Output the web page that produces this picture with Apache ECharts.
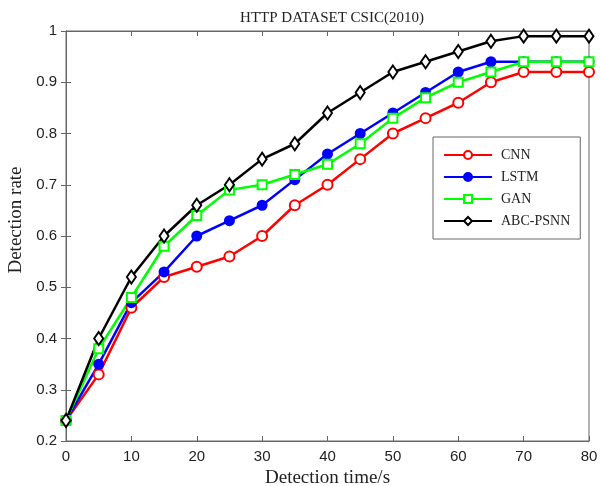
<!DOCTYPE html>
<html><head><meta charset="utf-8">
<script src="https://cdn.jsdelivr.net/npm/echarts@6/dist/echarts.min.js"></script>
<style>html,body{margin:0;padding:0;background:#fff}#c{width:600px;height:486px}</style>
</head><body><div id="c"></div>
<script>
const times = [0,5,10,15,20,25,30,35,40,45,50,55,60,65,70,75,80];
const cnn   = [0.24,0.33,0.46,0.52,0.54,0.56,0.60,0.66,0.70,0.75,0.80,0.83,0.86,0.90,0.92,0.92,0.92];
const lstm  = [0.24,0.35,0.47,0.53,0.60,0.63,0.66,0.71,0.76,0.80,0.84,0.88,0.92,0.94,0.94,0.94,0.94];
const gan   = [0.24,0.38,0.48,0.58,0.64,0.69,0.70,0.72,0.74,0.78,0.83,0.87,0.90,0.92,0.94,0.94,0.94];
const abc   = [0.24,0.40,0.52,0.60,0.66,0.70,0.75,0.78,0.84,0.88,0.92,0.94,0.96,0.98,0.99,0.99,0.99];
const seriesNames = ['CNN','LSTM','GAN','ABC-PSNN'];
const pair = arr => times.map((t,i)=>[t,arr[i]]);

const chart = echarts.init(document.getElementById('c'), null, {renderer:'canvas'});
const axisCol = '#666';
const tickFont = {fontFamily:'Liberation Sans', fontSize:15, color:'#222'};
function mk(name, data, color, symbol, size){
  return {name, type:'line', data:pair(data), symbol, symbolSize:size,
    lineStyle:{color, width:2.5}, itemStyle:{color, borderColor:color, borderWidth:2},
    z: 2};
}
chart.setOption({
  animation:false,
  title:{text:'HTTP DATASET CSIC(2010)', left:327, textAlign:'center', top:6,
    textStyle:{fontFamily:'Liberation Serif', fontSize:15, fontWeight:'normal', color:'#222'}},
  grid:{left:66, right:11, top:31, bottom:45, show:true, borderColor:axisCol, borderWidth:1,
    containLabel:false, outerBoundsMode:'none'},
  legend:{orient:'vertical', left:433, top:137, width:146, itemWidth:48, itemHeight:10, itemGap:8,
    padding:[11,10,11,10], borderColor:axisCol, borderWidth:1, backgroundColor:'#fff',
    textStyle:{fontFamily:'Liberation Serif', fontSize:14, color:'#222', padding:[0,0,0,4]},
    data:seriesNames},
  xAxis:[{type:'value', min:0, max:80, interval:10, name:'Detection time/s', nameLocation:'middle', nameGap:25,
    nameTextStyle:{fontFamily:'Liberation Serif', fontSize:19, color:'#222'},
    axisLine:{lineStyle:{color:axisCol}}, axisTick:{inside:true, length:5, lineStyle:{color:axisCol}},
    axisLabel:Object.assign({margin:8}, tickFont), splitLine:{show:false}},
    {type:'value', min:0, max:80, interval:10, position:'top', axisLine:{lineStyle:{color:axisCol}},
    axisTick:{inside:true, length:5, lineStyle:{color:axisCol}}, axisLabel:{show:false}, splitLine:{show:false}}],
  yAxis:[{type:'value', min:0.2, max:1, interval:0.1, name:'Detection rate', nameLocation:'middle', nameGap:40,
    nameTextStyle:{fontFamily:'Liberation Serif', fontSize:19, color:'#222', padding:[0,0,0,32]},
    axisLine:{show:true, lineStyle:{color:axisCol}}, axisTick:{show:true, inside:true, length:5, lineStyle:{color:axisCol}},
    axisLabel:Object.assign({margin:9, formatter:v=>String(Math.round(v*10)/10)}, tickFont), splitLine:{show:false}},
    {type:'value', min:0.2, max:1, interval:0.1, position:'right', axisLine:{show:true, lineStyle:{color:axisCol}},
    axisTick:{show:true, inside:true, length:5, lineStyle:{color:axisCol}}, axisLabel:{show:false}, splitLine:{show:false}}],
  series:[
    mk('CNN', cnn, '#ff0000', 'emptyCircle', 10),
    mk('LSTM', lstm, '#0000ff', 'circle', 9),
    mk('GAN', gan, '#00ff00', 'emptyRect', 9),
    mk('ABC-PSNN', abc, '#000000', 'emptyDiamond', [9,13])
  ]
});
</script></body></html>
